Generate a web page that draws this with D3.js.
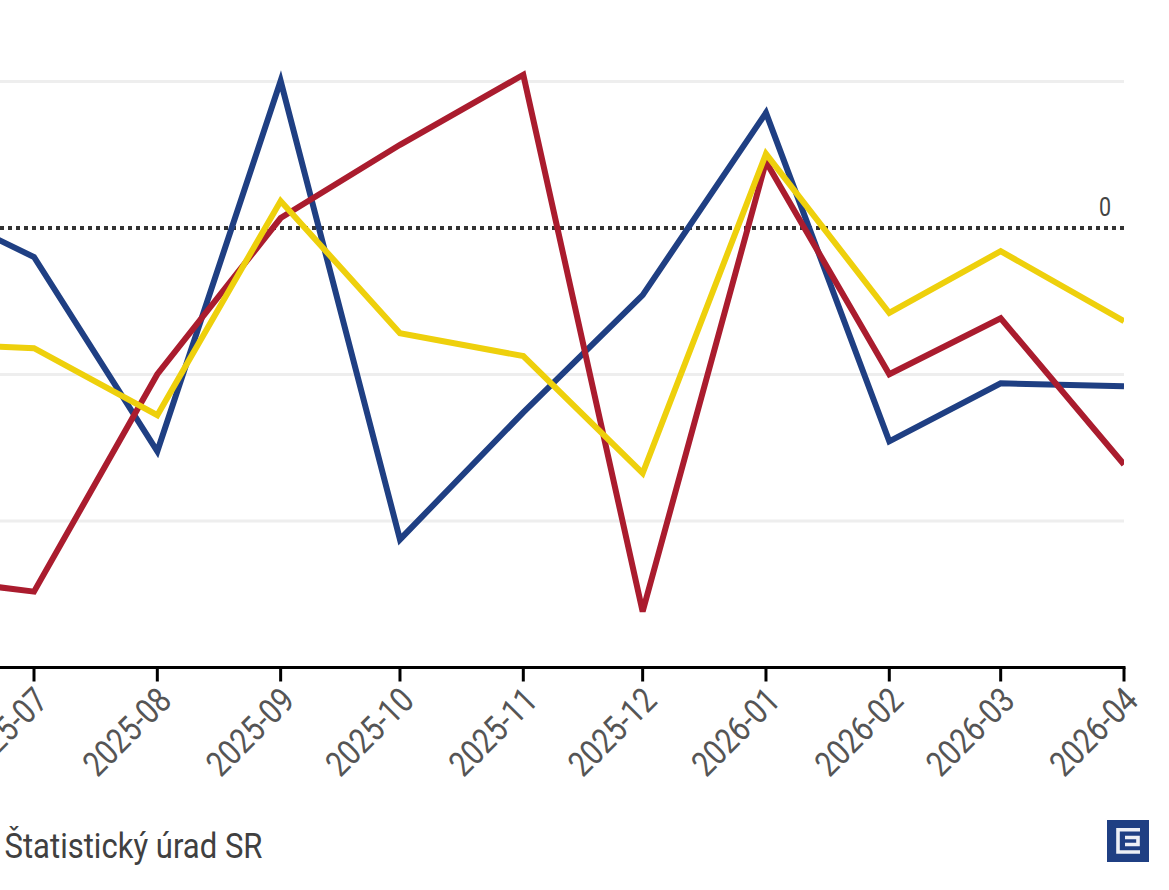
<!DOCTYPE html>
<html>
<head>
<meta charset="utf-8">
<script src="https://cdn.jsdelivr.net/npm/d3@7"></script>
<style>
  html, body { margin: 0; padding: 0; background: #fff; overflow: hidden; }
  svg { display: block; }
  text { font-family: "Roboto", sans-serif; }
</style>
</head>
<body>
<svg id="chart" width="1169" height="890"></svg>
<script>
const months = ["2025-06","2025-07","2025-08","2025-09","2025-10","2025-11","2025-12","2026-01","2026-02","2026-03","2026-04"];
const blueValues = [0.99,-0.99,-7.62,5.02,-10.63,-6.29,-2.29,3.93,-7.28,-5.30,-5.40];
const redValues = [-11.90,-12.41,-4.99,0.34,2.84,5.23,-13.09,2.26,-4.99,-3.08,-8.07];
const yellowValues = [-3.93,-4.10,-6.39,0.92,-3.59,-4.37,-8.37,2.53,-2.90,-0.79,-3.18];
const gridValues = [-10,-5,5];
const tickMonths = months.slice(1);
const sourceText = "Štatistický úrad SR";

const parseMonth = d3.utcParse("%Y-%m");
const svg = d3.select("#chart");

const x = d3.scaleUtc()
  .domain([parseMonth("2025-07"), parseMonth("2026-04")])
  .range([34, 1124]);
const y = d3.scaleLinear().domain([-15, 5]).range([667.5, 81.5]);

// Horizontal guides
svg.append("g").selectAll("line").data(gridValues).join("line")
  .attr("x1", 0).attr("x2", 1124)
  .attr("y1", d => y(d)).attr("y2", d => y(d))
  .attr("stroke", "#eeeeee").attr("stroke-width", 3);

// Dotted zero line and its label
svg.append("line")
  .attr("x1", 0).attr("x2", 1124)
  .attr("y1", y(0)).attr("y2", y(0))
  .attr("stroke", "#333333").attr("stroke-width", 4)
  .attr("stroke-dasharray", "4 4");
svg.append("text")
  .attr("transform", `translate(1105,${y(0) - 12.5}) scale(0.86,1)`)
  .attr("text-anchor", "middle")
  .attr("font-size", 25).attr("fill", "#444444")
  .text("0");

// Series lines, trimmed at the last month
svg.append("clipPath").attr("id", "plot-clip").append("rect")
  .attr("x", 0).attr("y", 0).attr("width", 1124).attr("height", 667);

const line = d3.line()
  .x((d, i) => x(parseMonth(months[i])))
  .y(d => y(d));

const series = [
  { values: blueValues, color: "#1f3f83" },
  { values: redValues, color: "#aa1c2e" },
  { values: yellowValues, color: "#eed00c" }
];
svg.append("g").attr("clip-path", "url(#plot-clip)")
  .selectAll("path").data(series).join("path")
  .attr("d", d => line(d.values))
  .attr("fill", "none")
  .attr("stroke", d => d.color)
  .attr("stroke-width", 6)
  .attr("stroke-linejoin", "miter")
  .attr("stroke-miterlimit", 4);

// Bottom axis
const axis = d3.axisBottom(x)
  .tickValues(tickMonths.map(parseMonth))
  .tickFormat(d3.utcFormat("%Y-%m"))
  .tickSize(14)
  .tickSizeOuter(0)
  .offset(0);
const axisG = svg.append("g").attr("transform", "translate(0,667.5)").call(axis);
axisG.select(".domain").attr("d", "M0,0H1125.5").attr("stroke", "#000").attr("stroke-width", 3);
axisG.selectAll(".tick line").attr("stroke", "#000").attr("stroke-width", 3);
axisG.selectAll(".tick text")
  .attr("x", null).attr("y", null).attr("dy", null)
  .attr("text-anchor", "end")
  .attr("font-size", 35)
  .attr("font-family", "Roboto, sans-serif")
  .attr("fill", "#555555")
  .attr("transform", "translate(16,35) rotate(-45) scale(0.84,1)");

// Source line
svg.append("text")
  .attr("transform", "translate(4.5,858) scale(0.887,1)")
  .attr("font-size", 35).attr("fill", "#404040")
  .text(sourceText);

// Publisher mark
const logo = svg.append("g").attr("transform", "translate(1107,820)");
logo.append("rect").attr("width", 42).attr("height", 42).attr("fill", "#1f3f83");
logo.append("path")
  .attr("d", "M33 9.7H11V32H33M18 17.5H31V24.5H18")
  .attr("fill", "none").attr("stroke", "#eef0f6").attr("stroke-width", 3.6);
</script>
</body>
</html>
